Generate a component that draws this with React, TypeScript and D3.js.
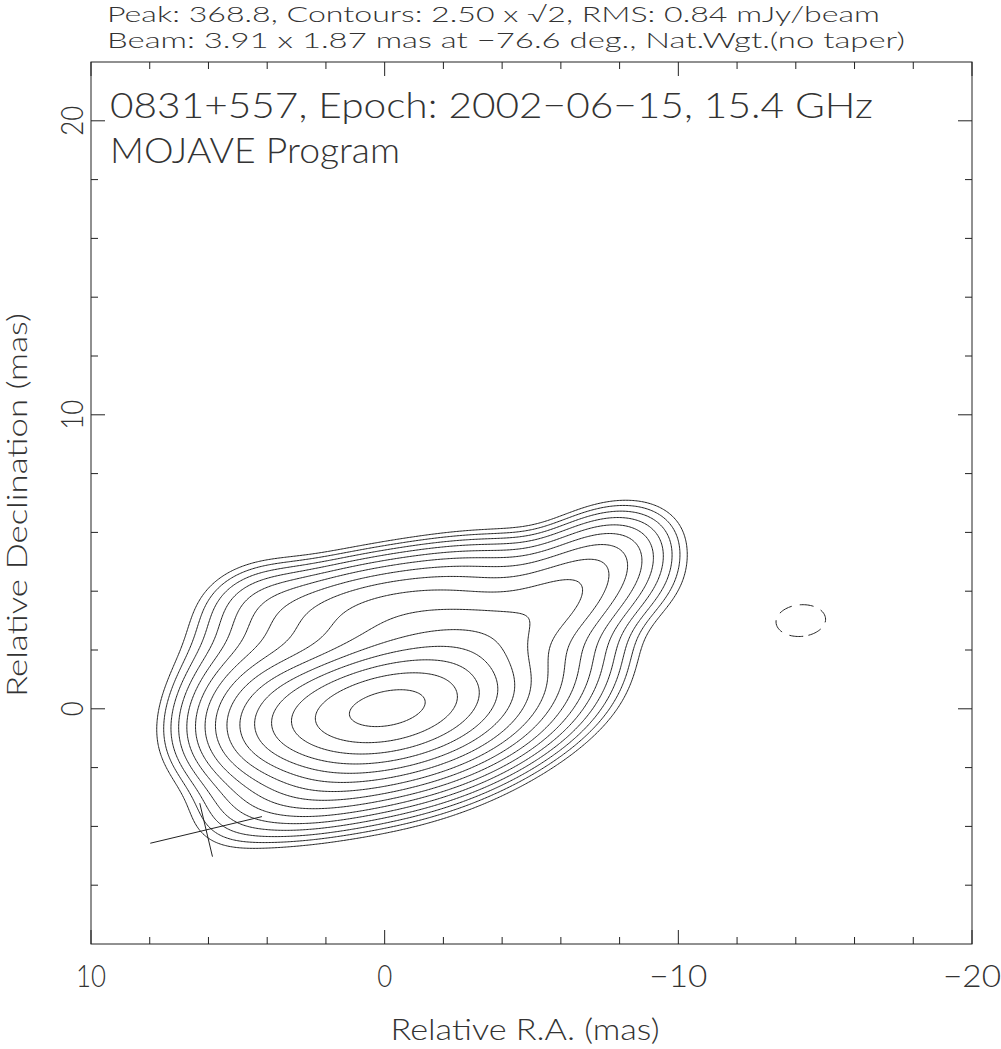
import React, { useMemo } from 'react';
import * as d3 from 'd3';

const W = 1001;
const H = 1049;

// axes
const raDomain = [10, -20];
const decDomain = [-8, 22];
const xMajorTicks = [10, 0, -10, -20];
const yMajorTicks = [0, 10, 20];
const xMinorTicks = [8, 6, 4, 2, -2, -4, -6, -8, -12, -14, -16, -18];
const yMinorTicks = [-6, -4, -2, 2, 4, 6, 8, 12, 14, 16, 18];
const xTickLabels = ['10', '0', '\u221210', '\u221220'];
const yTickLabels = ['0', '10', '20'];

// map / beam info
const contourLevels = [2.5, 3.54, 5, 7.07, 10, 14.1, 20, 28.3, 40, 56.6, 80, 113, 160, 226, 320];
const negativeLevels = [-2.5];
const beam = [3.91, 1.87, -76.6];
const beamCenter = [6.08, -4.12];

// image-plane gaussian components: position (mas), peak (mJy/beam), FWHM (mas), PA (deg)
const compRA = [-0.05, -0.3, 1.5, -2.8, -3.0, -6.0, -7.6, 1.5, -2.5, -5.8, 3.87, 5.0, 4.3, -0.5, -8.8, -14.17];
const compDec = [0.0, 0.2, -2.3, -1.2, 2.2, 3.7, 5.3, 3.6, 4.3, 1.3, 0.0, -2.8, 3.9, 3.0, 4.2, 3.0];
const compPeak = [303, 60, 18, 16, 35, 33, 13, 12, 14, 11, 29, 2, 4, 27, 2.5, -3.0];
const compMaj = [5.4, 6.2, 5.18, 5.6, 4.24, 3.6, 3.2, 5.18, 5.18, 3.6, 3.75, 3.3, 3.0, 6.0, 3.0, 3.3];
const compMin = [2.35, 3.77, 2.0, 2.0, 2.35, 2.2, 2.1, 2.0, 2.0, 2.1, 3.4, 2.35, 1.9, 2.3, 2.2, 2.1];
const compPA = [-80, -75, -70, -70, -70, -65, -70, -80, -80, -65, -80, -30, -80, -85, -70, -85];

const headerLine1 = 'Peak: 368.8, Contours: 2.50 x \u221A2, RMS: 0.84 mJy/beam';
const headerLine2 = 'Beam: 3.91 x 1.87 mas at \u221276.6 deg., Nat.Wgt.(no taper)';
const titleLine1 = '0831+557, Epoch: 2002\u221206\u221215, 15.4 GHz';
const titleLine2 = 'MOJAVE Program';
const xTitle = 'Relative R.A. (mas)';
const yTitle = 'Relative Declination (mas)';

const FONT = 'Lato, "DejaVu Sans", sans-serif';
const INK = '#222';

function gaussField(ra: number, dec: number) {
  let s = 0;
  for (let k = 0; k < compRA.length; k++) {
    const du = ra - compRA[k];
    const dv = dec - compDec[k];
    const t = (compPA[k] * Math.PI) / 180;
    const a = du * Math.sin(t) + dv * Math.cos(t);
    const b = du * Math.cos(t) - dv * Math.sin(t);
    const sa = compMaj[k] / 2.3548;
    const sb = compMin[k] / 2.3548;
    s += compPeak[k] * Math.exp(-0.5 * ((a * a) / (sa * sa) + (b * b) / (sb * sb)));
  }
  return s;
}

export default function App() {
  const x = d3.scaleLinear().domain(raDomain).range([91, 972]);
  const y = d3.scaleLinear().domain(decDomain).range([944, 62]);
  const [x0, x1] = x.range();
  const [y0, y1] = y.range();

  const { posPaths, negPaths } = useMemo(() => {
    const step = 0.05;
    const u0 = 12;
    const v0 = 12;
    const nx = Math.round((u0 - -22) / step) + 1;
    const ny = Math.round((v0 - -10) / step) + 1;
    const vals: number[] = new Array(nx * ny);
    const neg: number[] = new Array(nx * ny);
    for (let j = 0; j < ny; j++) {
      const dec = v0 - j * step;
      for (let i = 0; i < nx; i++) {
        const ra = u0 - i * step;
        const f = gaussField(ra, dec);
        vals[j * nx + i] = f;
        neg[j * nx + i] = -f;
      }
    }
    const tr = d3.geoTransform({
      point(px: number, py: number) {
        (this as any).stream.point(x(u0 - (px - 0.5) * step), y(v0 - (py - 0.5) * step));
      },
    });
    const path = d3.geoPath(tr);
    const pos = d3.contours().size([nx, ny]).thresholds(contourLevels)(vals);
    const ng = d3.contours().size([nx, ny]).thresholds(negativeLevels.map((l) => -l))(neg);
    return {
      posPaths: pos.map((c) => path(c as any) || ''),
      negPaths: ng.map((c) => path(c as any) || ''),
    };
  }, []);

  const bx = beamCenter[0];
  const by = beamCenter[1];
  const th = (beam[2] * Math.PI) / 180;
  const majEnds = [-1, 1].map((s) => [bx + ((s * beam[0]) / 2) * Math.sin(th), by + ((s * beam[0]) / 2) * Math.cos(th)]);
  const minEnds = [-1, 1].map((s) => [bx + ((s * beam[1]) / 2) * Math.cos(th), by - ((s * beam[1]) / 2) * Math.sin(th)]);

  const ticks: any[] = [];
  const TL = 14;
  const TS = 7;
  const tk = (key: string, ax1: number, ay1: number, ax2: number, ay2: number) =>
    ticks.push(<line key={key} x1={ax1} y1={ay1} x2={ax2} y2={ay2} stroke={INK} strokeWidth={1} />);
  xMajorTicks.forEach((t) => {
    tk('xb' + t, x(t), y0, x(t), y0 - TL);
    tk('xt' + t, x(t), y1, x(t), y1 + TL);
  });
  xMinorTicks.forEach((t) => {
    tk('xbm' + t, x(t), y0, x(t), y0 - TS);
    tk('xtm' + t, x(t), y1, x(t), y1 + TS);
  });
  yMajorTicks.forEach((t) => {
    tk('yl' + t, x0, y(t), x0 + TL, y(t));
    tk('yr' + t, x1, y(t), x1 - TL, y(t));
  });
  yMinorTicks.forEach((t) => {
    tk('ylm' + t, x0, y(t), x0 + TS, y(t));
    tk('yrm' + t, x1, y(t), x1 - TS, y(t));
  });

  const xLabelW = [30, 15, 58, 58];
  const yLabelW = [15, 30, 30];

  return (
    <svg width={W} height={H} style={{ position: 'absolute', left: 0, top: 0, background: '#fff' }}>
      <rect x={0} y={0} width={W} height={H} fill="#fff" />
      <g fontFamily={FONT} fontWeight={300} fill="#333">
        <text x={107} y={22} fontSize={21} textLength={773} lengthAdjust="spacingAndGlyphs">{headerLine1}</text>
        <text x={107} y={48} fontSize={21} textLength={798} lengthAdjust="spacingAndGlyphs">{headerLine2}</text>
        <text x={110} y={118} fontSize={36} textLength={763} lengthAdjust="spacingAndGlyphs">{titleLine1}</text>
        <text x={110} y={163} fontSize={36} textLength={290} lengthAdjust="spacingAndGlyphs">{titleLine2}</text>
        {xMajorTicks.map((t, i) => (
          <text key={'xl' + t} x={x(t)} y={987} fontSize={31} textAnchor="middle" textLength={xLabelW[i]} lengthAdjust="spacingAndGlyphs">{xTickLabels[i]}</text>
        ))}
        {yMajorTicks.map((t, i) => (
          <text key={'yl' + t} transform={`translate(83,${y(t)}) rotate(-90)`} fontSize={31} textAnchor="middle" textLength={yLabelW[i]} lengthAdjust="spacingAndGlyphs">{yTickLabels[i]}</text>
        ))}
        <text x={525} y={1040} fontSize={29} textAnchor="middle" textLength={269} lengthAdjust="spacingAndGlyphs">{xTitle}</text>
        <text transform="translate(27,505) rotate(-90)" fontSize={28} textAnchor="middle" textLength={384} lengthAdjust="spacingAndGlyphs">{yTitle}</text>
      </g>
      <rect x={x0} y={y1} width={x1 - x0} height={y0 - y1} fill="none" stroke={INK} strokeWidth={1} />
      {ticks}
      <g fill="none" stroke={INK} strokeWidth={1}>
        {posPaths.map((d, i) => (
          <path key={'c' + i} d={d} />
        ))}
        {negPaths.map((d, i) => (
          <path key={'n' + i} d={d} strokeDasharray="14,8" />
        ))}
      </g>
      <g stroke={INK} strokeWidth={1}>
        <line x1={x(majEnds[0][0])} y1={y(majEnds[0][1])} x2={x(majEnds[1][0])} y2={y(majEnds[1][1])} />
        <line x1={x(minEnds[0][0])} y1={y(minEnds[0][1])} x2={x(minEnds[1][0])} y2={y(minEnds[1][1])} />
      </g>
    </svg>
  );
}
